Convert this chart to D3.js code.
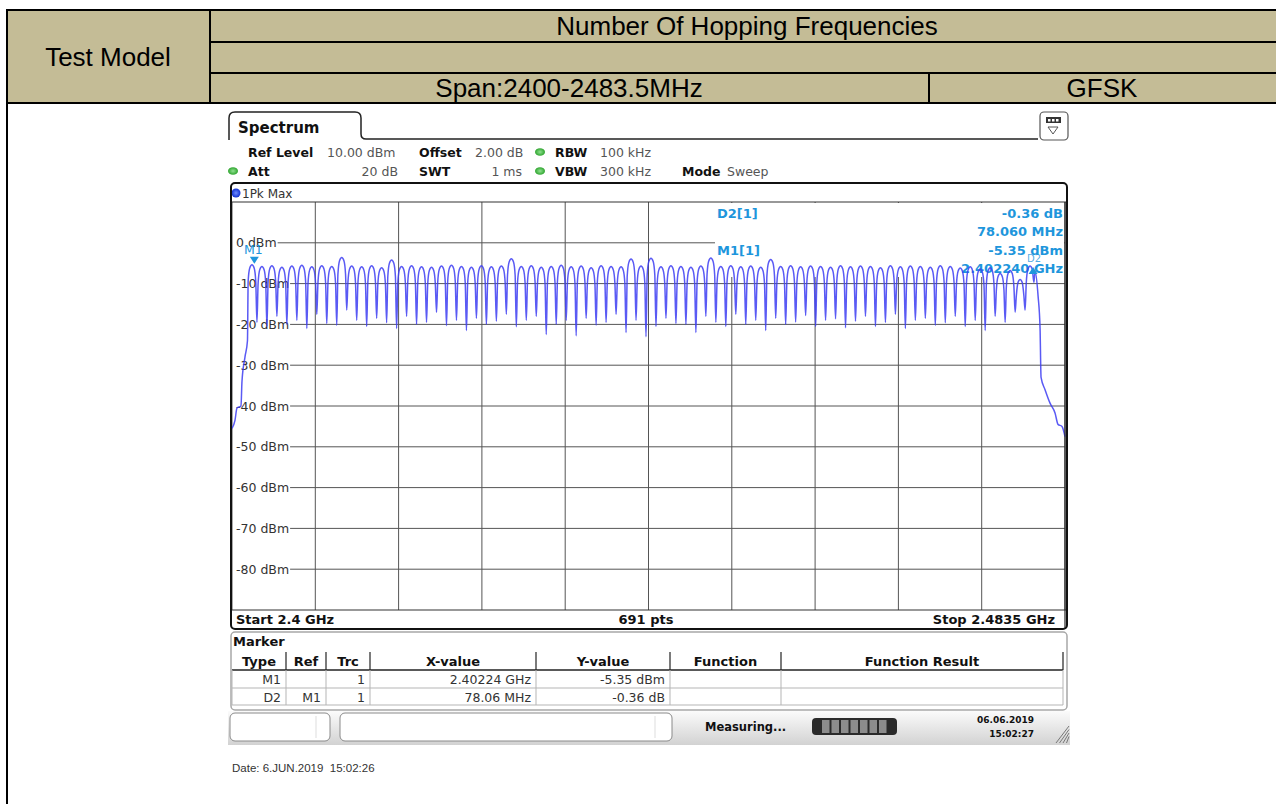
<!DOCTYPE html>
<html><head><meta charset="utf-8">
<script src="https://cdn.jsdelivr.net/npm/d3@7/dist/d3.min.js"></script>
<style>
body{margin:0;background:#fff;}
svg{display:block;}
text{white-space:pre;}
</style></head><body>
<svg id="c" width="1276" height="804"></svg>
<script>
// ---------------- data ----------------
const headerTitle = "Number Of Hopping Frequencies";
const rowLabel = "Test Model";
const spanLabel = "Span:2400-2483.5MHz";
const modLabel = "GFSK";

const freqDomain = [2400, 2483.5];      // MHz
const levelDomain = [-90, 10];          // dBm
const yTickValues = [0, -10, -20, -30, -40, -50, -60, -70, -80];
const yTickLabels = ["0 dBm", "-10 dBm", "-20 dBm", "-30 dBm", "-40 dBm", "-50 dBm", "-60 dBm", "-70 dBm", "-80 dBm"];

// hopping channels 2402..2480 MHz
const channelFreqs = d3.range(2402, 2481);
const channelPeaks = [
  -5.4,-5.8,-5.6,-6.0,-5.7,-5.5,-5.9,-5.6,-5.8,-3.6,
  -5.7,-5.9,-5.6,-6.1,-4.2,-5.8,-5.6,-5.9,-6.0,-5.7,
  -5.5,-5.8,-6.0,-5.6,-5.9,-5.7,-3.9,-5.8,-5.6,-6.0,
  -5.8,-5.5,-5.9,-5.7,-6.1,-5.6,-5.8,-5.9,-4.0,-5.7,
  -3.8,-5.9,-5.6,-5.8,-6.0,-5.7,-3.7,-5.8,-5.6,-5.9,
  -5.7,-6.0,-4.1,-5.8,-5.6,-5.9,-5.7,-5.8,-6.0,-5.6,
  -5.9,-5.7,-5.8,-6.1,-5.6,-5.9,-5.7,-5.8,-6.0,-5.6,
  -5.8,-6.2,-5.9,-6.4,-6.1,-7.5,-6.8,-9.0,-5.7
];
const channelDips = [
  -19.5,-20.5,-18.0,-20.0,-19.0,-21.0,-17.5,-19.8,-20.2,-16.5,
  -19.0,-20.5,-18.5,-19.6,-21.0,-18.0,-20.0,-19.5,-17.0,-20.3,
  -19.0,-21.5,-18.5,-20.0,-19.2,-17.5,-20.6,-19.0,-18.0,-22.5,
  -20.0,-19.0,-22.8,-18.5,-20.2,-19.5,-17.5,-22.0,-19.0,-23.0,
  -20.5,-18.5,-19.8,-20.0,-22.0,-18.0,-19.5,-20.5,-17.5,-20.0,
  -19.0,-21.5,-18.5,-20.0,-19.4,-17.8,-20.5,-19.0,-18.6,-20.8,
  -19.2,-18.0,-20.5,-19.5,-17.5,-21.0,-19.0,-18.5,-20.2,-19.6,
  -18.0,-20.5,-19.0,-21.5,-18.0,-19.5,-17.0,-16.5
];
const riseEdge = [[2400.0,-45.5],[2400.3,-43.5],[2400.5,-40.5],[2400.9,-40.0],[2401.0,-34.0],[2401.3,-28.0],[2401.55,-24.0]];
const fallEdge = [[2480.5,-7.0],[2480.8,-13.0],[2481.0,-21.0],[2481.1,-33.0],[2481.5,-36.0],[2482.0,-39.3],[2482.5,-41.7],[2482.8,-44.5],[2483.2,-45.0],[2483.5,-47.5]];

const markerM1 = {name:"M1", freq:2402.24, level:-5.35};
const markerD2 = {name:"D2", freq:2402.24 + 78.06, level:-5.35 - 0.36};

const markerReadout = [
  {label:"D2[1]", value:"-0.36 dB"},
  {label:"", value:"78.060 MHz"},
  {label:"M1[1]", value:"-5.35 dBm"},
  {label:"", value:"2.402240 GHz"}
];

const tableHeaders = ["Type","Ref","Trc","X-value","Y-value","Function","Function Result"];
const tableRows = [
  ["M1","","1","2.40224 GHz","-5.35 dBm","",""],
  ["D2","M1","1","78.06 MHz","-0.36 dB","",""]
];

const infoRow1 = [["Ref Level","10.00 dBm"],["Offset","2.00 dB"],["RBW","100 kHz"]];
const infoRow2 = [["Att","20 dB"],["SWT","1 ms"],["VBW","300 kHz"],["Mode","Sweep"]];

// ---------------- drawing ----------------
const svg = d3.select("#c");
const FONT = "'DejaVu Sans', Verdana, sans-serif";
const ARIAL = "'Liberation Sans', Arial, sans-serif";

const defs = svg.append("defs");
const gBar = defs.append("linearGradient").attr("id","sbar").attr("x1",0).attr("y1",0).attr("x2",0).attr("y2",1);
gBar.append("stop").attr("offset","0%").attr("stop-color","#fbfbfb");
gBar.append("stop").attr("offset","100%").attr("stop-color","#d2d2d2");
const gGreen = defs.append("radialGradient").attr("id","gdot");
gGreen.append("stop").attr("offset","0%").attr("stop-color","#8fe08f");
gGreen.append("stop").attr("offset","100%").attr("stop-color","#2fa52f");
const gBlue = defs.append("radialGradient").attr("id","bdot");
gBlue.append("stop").attr("offset","0%").attr("stop-color","#6f8cff");
gBlue.append("stop").attr("offset","100%").attr("stop-color","#1030d0");

// header table
const hdr = svg.append("g");
hdr.append("rect").attr("x",7).attr("y",10).attr("width",1269).attr("height",93).attr("fill","#c4bc96");
const hl = (x1,y1,x2,y2,w=2)=>hdr.append("line").attr("x1",x1).attr("y1",y1).attr("x2",x2).attr("y2",y2).attr("stroke","#000").attr("stroke-width",w);
hl(7,10,1276,10); hl(7,103,1276,103); hl(7,9,7,804); hl(210,10,210,103);
hl(210,42,1276,42); hl(210,73,1276,73); hl(929,73,929,103);
const ht = (x,y,t)=>hdr.append("text").attr("x",x).attr("y",y).attr("text-anchor","middle")
  .attr("font-family",ARIAL).attr("font-size",26).attr("fill","#000").text(t);
ht(747,35,headerTitle); ht(108,66,rowLabel); ht(569,97,spanLabel); ht(1102,97,modLabel);

// instrument screenshot
const scr = svg.append("g");
scr.append("path").attr("d","M229,140 V118 Q229,112 235,112 H355 Q361,112 361,118 V134 Q361,139 366,139 H1038")
  .attr("fill","none").attr("stroke","#222").attr("stroke-width",1.5);
scr.append("text").attr("x",238).attr("y",133).attr("font-family",FONT).attr("font-size",15).attr("font-weight","bold").attr("fill","#111").text("Spectrum");
scr.append("rect").attr("x",1040).attr("y",112).attr("width",28).attr("height",28).attr("rx",4).attr("fill","#fff").attr("stroke","#555").attr("stroke-width",1.2);
scr.append("rect").attr("x",1046).attr("y",117).attr("width",15).attr("height",6).attr("fill","#333");
[1048,1052,1056].forEach(x=>scr.append("rect").attr("x",x).attr("y",119).attr("width",2.5).attr("height",2.5).attr("fill","#fff"));
scr.append("path").attr("d","M1048,127 L1058,127 L1053,134 Z").attr("fill","#fff").attr("stroke","#555").attr("stroke-width",1);

function infoText(x,y,t,bold,anchor){
  return scr.append("text").attr("x",x).attr("y",y).attr("font-family",FONT).attr("font-size",12.5)
    .attr("font-weight",bold?"bold":"normal").attr("fill",bold?"#111":"#555").attr("text-anchor",anchor||"start").text(t);
}
const dot = (cx,cy)=>scr.append("ellipse").attr("cx",cx).attr("cy",cy).attr("rx",5).attr("ry",3.8).attr("fill","url(#gdot)");
infoText(248,157,infoRow1[0][0],true); infoText(327,157,infoRow1[0][1],false);
infoText(419,157,infoRow1[1][0],true); infoText(475,157,infoRow1[1][1],false);
dot(540,152);
infoText(555,157,infoRow1[2][0],true); infoText(600,157,infoRow1[2][1],false);
dot(233,171);
infoText(248,176,infoRow2[0][0],true); infoText(398,176,infoRow2[0][1],false,"end");
infoText(419,176,infoRow2[1][0],true); infoText(522,176,infoRow2[1][1],false,"end");
dot(540,171);
infoText(555,176,infoRow2[2][0],true); infoText(600,176,infoRow2[2][1],false);
infoText(682,176,infoRow2[3][0],true); infoText(727,176,infoRow2[3][1],false);

// plot
const x = d3.scaleLinear().domain(freqDomain).range([232,1065]);
const y = d3.scaleLinear().domain(levelDomain).range([610,202]);

const plot = svg.append("g");
plot.append("rect").attr("x",231).attr("y",183).attr("width",836).attr("height",446).attr("rx",4).attr("fill","#fff");
plot.append("circle").attr("cx",236).attr("cy",193).attr("r",4.5).attr("fill","url(#bdot)");
plot.append("text").attr("x",242).attr("y",198).attr("font-family",FONT).attr("font-size",12).attr("fill","#333").text("1Pk Max");

const xGridVals = d3.range(0,11).map(i=>freqDomain[0] + i*(freqDomain[1]-freqDomain[0])/10);
plot.selectAll("line.vg").data(xGridVals).join("line").attr("class","vg")
  .attr("x1",d=>x(d)).attr("x2",d=>x(d)).attr("y1",y(10)).attr("y2",y(-90))
  .attr("stroke","#555").attr("stroke-width",1);
plot.append("line").attr("x1",232).attr("x2",1066).attr("y1",y(10)).attr("y2",y(10)).attr("stroke","#333").attr("stroke-width",1.2);
plot.append("line").attr("x1",232).attr("x2",1066).attr("y1",y(-90)).attr("y2",y(-90)).attr("stroke","#333").attr("stroke-width",1.2);

yTickValues.forEach((v,i)=>{
  const t = plot.append("text").attr("x",236).attr("y",y(v)+4.5).attr("font-family",FONT).attr("font-size",12.5).attr("fill","#333").text(yTickLabels[i]);
  const w = t.node().getComputedTextLength();
  plot.append("line").attr("x1",236+w+1).attr("x2",1065).attr("y1",y(v)).attr("y2",y(v)).attr("stroke","#555").attr("stroke-width",1);
});

plot.append("rect").attr("x",715).attr("y",203).attr("width",349).attr("height",74).attr("fill","#fff");
const mcol = "#1e96dc";
const readY = [218,236,255,273];
markerReadout.forEach((r,i)=>{
  if(r.label) plot.append("text").attr("x",717).attr("y",readY[i]).attr("font-family",FONT).attr("font-size",13).attr("font-weight","bold").attr("fill",mcol).text(r.label);
  plot.append("text").attr("x",1063).attr("y",readY[i]).attr("text-anchor","end").attr("font-family",FONT).attr("font-size",13).attr("font-weight","bold").attr("fill",mcol).text(r.value);
});

// trace: each channel drawn as a rounded plateau, narrow dips between channels
const tracePts = [];
riseEdge.forEach(p=>tracePts.push(p));
channelFreqs.forEach((f,i)=>{
  const p = channelPeaks[i];
  tracePts.push([f-0.38,p-4.0],[f-0.22,p-0.8],[f,p],[f+0.22,p-0.8],[f+0.38,p-4.0]);
  if(i<channelDips.length) tracePts.push([f+0.5,channelDips[i]]);
});
fallEdge.forEach(p=>tracePts.push(p));
const line = d3.line().x(d=>x(d[0])).y(d=>y(d[1])).curve(d3.curveMonotoneX);
plot.append("path").datum(tracePts).attr("d",line).attr("fill","none")
  .attr("stroke","#3d3df2").attr("stroke-opacity",0.85).attr("stroke-width",1.5);

// markers
const mx1 = x(markerM1.freq), my1 = y(markerM1.level);
plot.append("path").attr("d",`M${mx1-4.5},${my1-8} L${mx1+4.5},${my1-8} L${mx1},${my1-1} Z`).attr("fill",mcol);
plot.append("text").attr("x",mx1-1).attr("y",my1-11).attr("text-anchor","middle").attr("font-family",FONT).attr("font-size",12.5).attr("fill",mcol).text(markerM1.name);
const mx2 = x(markerD2.freq), my2 = y(markerD2.level);
plot.append("path").attr("d",`M${mx2-4.5},${my2+8} L${mx2+4.5},${my2+8} L${mx2},${my2+1} Z`).attr("fill",mcol);
plot.append("text").attr("x",mx2+1).attr("y",my2-4).attr("text-anchor","middle").attr("font-family",FONT).attr("font-size",10).attr("fill",mcol).attr("fill-opacity",0.8).text(markerD2.name);

plot.append("line").attr("x1",1065).attr("x2",1065).attr("y1",202).attr("y2",628).attr("stroke","#222").attr("stroke-width",1.2);
plot.append("text").attr("x",236).attr("y",624).attr("font-family",FONT).attr("font-size",13).attr("font-weight","bold").attr("fill","#111").text("Start 2.4 GHz");
plot.append("text").attr("x",646).attr("y",624).attr("text-anchor","middle").attr("font-family",FONT).attr("font-size",13).attr("font-weight","bold").attr("fill","#111").text("691 pts");
plot.append("text").attr("x",1055).attr("y",624).attr("text-anchor","end").attr("font-family",FONT).attr("font-size",13).attr("font-weight","bold").attr("fill","#111").text("Stop 2.4835 GHz");
plot.append("rect").attr("x",231).attr("y",183).attr("width",836).attr("height",446).attr("rx",4).attr("fill","none").attr("stroke","#111").attr("stroke-width",2);

// marker table
const mt = svg.append("g");
mt.append("rect").attr("x",231).attr("y",632).attr("width",836).attr("height",78).attr("rx",4).attr("fill","#fff").attr("stroke","#a8a8a8").attr("stroke-width",1.5);
mt.append("text").attr("x",233).attr("y",646).attr("font-family",FONT).attr("font-size",13).attr("font-weight","bold").attr("fill","#111").text("Marker");
const colEdges = [232,286,326,370,536,670,781,1063];
const rowEdges = [652,670,688,705];
colEdges.slice(1).forEach(cx=>mt.append("line").attr("x1",cx).attr("x2",cx).attr("y1",rowEdges[0]).attr("y2",rowEdges[1]).attr("stroke","#222").attr("stroke-width",1.2));
mt.append("line").attr("x1",232).attr("x2",1063).attr("y1",rowEdges[1]).attr("y2",rowEdges[1]).attr("stroke","#222").attr("stroke-width",1.5);
colEdges.forEach(cx=>mt.append("line").attr("x1",cx).attr("x2",cx).attr("y1",rowEdges[1]).attr("y2",rowEdges[3]).attr("stroke","#b5b5b5").attr("stroke-width",1));
[rowEdges[2],rowEdges[3]].forEach(ry=>mt.append("line").attr("x1",232).attr("x2",1063).attr("y1",ry).attr("y2",ry).attr("stroke","#b5b5b5").attr("stroke-width",1));
tableHeaders.forEach((h,i)=>{
  mt.append("text").attr("x",(colEdges[i]+colEdges[i+1])/2).attr("y",666).attr("text-anchor","middle")
    .attr("font-family",FONT).attr("font-size",13).attr("font-weight","bold").attr("fill","#111").text(h);
});
tableRows.forEach((row,r)=>{
  row.forEach((v,i)=>{
    if(!v) return;
    mt.append("text").attr("x",colEdges[i+1]-5).attr("y",rowEdges[r+1]+14).attr("text-anchor","end")
      .attr("font-family",FONT).attr("font-size",12.5).attr("fill","#333").text(v);
  });
});

// status bar
const sb = svg.append("g");
sb.append("rect").attr("x",228).attr("y",711).attr("width",842).attr("height",34).attr("fill","url(#sbar)");
sb.append("rect").attr("x",230).attr("y",713).attr("width",100).attr("height",28).attr("rx",5).attr("fill","#fff").attr("stroke","#8a8a8a");
sb.append("rect").attr("x",340).attr("y",713).attr("width",332).attr("height",28).attr("rx",5).attr("fill","#fff").attr("stroke","#8a8a8a");
sb.append("line").attr("x1",316).attr("x2",316).attr("y1",716).attr("y2",738).attr("stroke","#ddd");
sb.append("line").attr("x1",655).attr("x2",655).attr("y1",716).attr("y2",738).attr("stroke","#ddd");
sb.append("text").attr("x",705).attr("y",731).attr("font-family",FONT).attr("font-size",11.5).attr("font-weight","bold").attr("fill","#111").text("Measuring...");
sb.append("rect").attr("x",812).attr("y",718).attr("width",85).attr("height",17).attr("rx",4).attr("fill","#2a2a2a");
d3.range(7).forEach(i=>sb.append("rect").attr("x",822+i*9.5).attr("y",720).attr("width",7.5).attr("height",13).attr("fill","#8c8c8c"));
sb.append("text").attr("x",1034).attr("y",723).attr("text-anchor","end").attr("font-family",FONT).attr("font-size",9).attr("font-weight","bold").attr("fill","#111").text("06.06.2019");
sb.append("text").attr("x",1034).attr("y",737).attr("text-anchor","end").attr("font-family",FONT).attr("font-size",9).attr("font-weight","bold").attr("fill","#111").text("15:02:27");
[0,1,2,3].forEach(i=>sb.append("line").attr("x1",1056+i*3.5).attr("y1",743).attr("x2",1069).attr("y2",726+i*3.5).attr("stroke","#777").attr("stroke-width",1));

svg.append("text").attr("x",232).attr("y",772).attr("font-family",ARIAL).attr("font-size",11.5).attr("fill","#333").text("Date: 6.JUN.2019  15:02:26");
</script></body></html>
